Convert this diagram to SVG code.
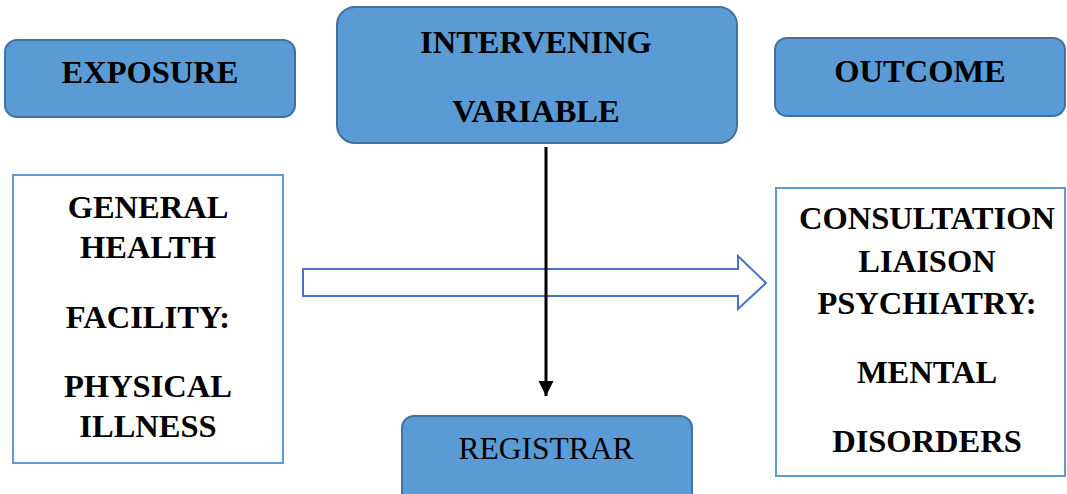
<svg xmlns="http://www.w3.org/2000/svg" width="1067" height="494" viewBox="0 0 1067 494">
<defs>
<style>
.hdr{fill:#5B9BD5;stroke:#41719C;stroke-width:2}
.box{fill:#FFFFFF;stroke:#5B9BD5;stroke-width:2}
.t{font-family:"Liberation Serif","Times New Roman",Times,serif;font-size:32.5px;font-weight:700;fill:#000;text-anchor:middle}
.r{font-weight:400;font-size:31.5px}
</style>
<marker id="ah" viewBox="0 0 10 10" refX="10" refY="5" markerWidth="5" markerHeight="5.5" markerUnits="strokeWidth" orient="auto">
<path d="M0,0 L10,5 L0,10 Z" fill="#000"/>
</marker>
</defs>
<rect width="1067" height="494" fill="#FFFFFF"/>
<g id="exposure">
<rect class="hdr" x="5" y="40" width="290" height="77" rx="12"/>
<text class="t" x="150" y="83">EXPOSURE</text>
</g>
<g id="intervening">
<rect class="hdr" x="337" y="7" width="400" height="136" rx="18"/>
<text class="t" x="536" y="53">INTERVENING</text>
<text class="t" x="536" y="122">VARIABLE</text>
</g>
<g id="outcome">
<rect class="hdr" x="775" y="38" width="290" height="78" rx="12"/>
<text class="t" x="920" y="82">OUTCOME</text>
</g>
<g id="general-health">
<rect class="box" x="13" y="175" width="270" height="288"/>
<text class="t" x="148" y="218">GENERAL</text>
<text class="t" x="148" y="258">HEALTH</text>
<text class="t" x="148" y="328">FACILITY:</text>
<text class="t" x="148" y="397">PHYSICAL</text>
<text class="t" x="148" y="437">ILLNESS</text>
</g>
<g id="consultation">
<rect class="box" x="776" y="188" width="289" height="288"/>
<text class="t" x="927" y="229">CONSULTATION</text>
<text class="t" x="927" y="272">LIAISON</text>
<text class="t" x="927" y="314">PSYCHIATRY:</text>
<text class="t" x="927" y="383">MENTAL</text>
<text class="t" x="927" y="452">DISORDERS</text>
</g>
<g id="registrar">
<rect class="hdr" x="402" y="416" width="290" height="90" rx="12"/>
<text class="t r" x="546" y="459">REGISTRAR</text>
</g>
<g id="connectors">
<path d="M303,269 L738,269 L738,256 L766,283 L738,309 L738,296 L303,296 Z" fill="#FFFFFF" stroke="#4472C4" stroke-width="2"/>
<line x1="546" y1="147" x2="546" y2="396" stroke="#000" stroke-width="3" marker-end="url(#ah)"/>
</g>
</svg>
